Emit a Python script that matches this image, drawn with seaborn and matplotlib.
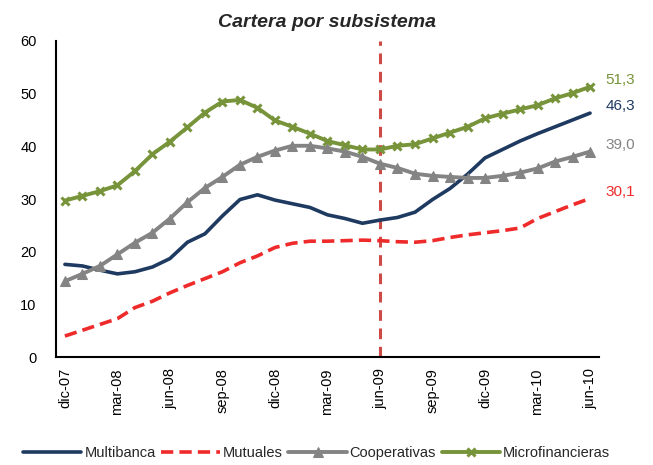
import seaborn as sns
import matplotlib.pyplot as plt
import pandas as pd

# monthly data dic-07 .. jun-10 (31 months)
months = ["dic-07", "ene-08", "feb-08", "mar-08", "abr-08", "may-08", "jun-08", "jul-08",
          "ago-08", "sep-08", "oct-08", "nov-08", "dic-08", "ene-09", "feb-09", "mar-09",
          "abr-09", "may-09", "jun-09", "jul-09", "ago-09", "sep-09", "oct-09", "nov-09",
          "dic-09", "ene-10", "feb-10", "mar-10", "abr-10", "may-10", "jun-10"]

multibanca = [17.6, 17.3, 16.5, 15.8, 16.2, 17.1, 18.7, 21.8, 23.4, 26.8, 29.9, 30.8,
              29.8, 29.1, 28.4, 27.0, 26.3, 25.4, 26.0, 26.5, 27.5, 29.9, 32.0, 34.7,
              37.8, 39.4, 41.0, 42.4, 43.7, 45.0, 46.3]
mutuales = [4.0, 5.1, 6.2, 7.3, 9.4, 10.6, 12.2, 13.6, 14.9, 16.2, 17.9, 19.2,
            20.8, 21.6, 22.0, 22.0, 22.1, 22.2, 22.1, 21.9, 21.8, 22.1, 22.7, 23.2,
            23.6, 24.0, 24.5, 26.3, 27.6, 28.9, 30.1]
cooperativas = [14.4, 15.8, 17.3, 19.5, 21.7, 23.6, 26.3, 29.4, 32.1, 34.2, 36.5, 38.0,
                39.2, 40.1, 40.1, 39.6, 39.0, 38.0, 36.7, 35.9, 34.8, 34.4, 34.2, 34.0,
                34.0, 34.4, 35.0, 35.8, 37.1, 38.0, 39.0]
microfinancieras = [29.7, 30.6, 31.5, 32.6, 35.3, 38.5, 40.9, 43.6, 46.4, 48.5, 48.8, 47.3,
                    44.9, 43.7, 42.4, 41.0, 40.2, 39.4, 39.4, 40.1, 40.4, 41.5, 42.6, 43.7,
                    45.3, 46.2, 47.0, 47.8, 49.1, 50.1, 51.3]

end_labels = ["46,3", "30,1", "39,0", "51,3"]
marker_month = "jun-09"

df = pd.DataFrame({"mes": months, "Multibanca": multibanca, "Mutuales": mutuales,
                   "Cooperativas": cooperativas, "Microfinancieras": microfinancieras})
df["pos"] = range(len(df))

sns.set_style("white")
plt.rcParams['font.family'] = ['Liberation Sans', 'DejaVu Sans']

fig, ax = plt.subplots(figsize=(6.53, 4.65), dpi=100)
fig.subplots_adjust(left=0.086, right=0.917, bottom=0.232, top=0.912)

styles = {
    "Multibanca": dict(color="#1F3A60", linestyle="-", marker=None, linewidth=2.6),
    "Mutuales": dict(color="#EE2A2A", linestyle=(0, (3.4, 1.7)), marker=None, linewidth=2.6),
    "Cooperativas": dict(color="#848484", linestyle="-", marker="^", markersize=7,
                         markeredgecolor="#848484", linewidth=2.8),
    "Microfinancieras": dict(color="#77943A", linestyle="-", marker="x", markersize=6,
                             markeredgewidth=2.2, markeredgecolor="#77943A", linewidth=2.8),
}

for name, st in styles.items():
    sns.lineplot(data=df, x="pos", y=name, ax=ax, label=name, **st)

# vertical reference line at jun-09
ax.axvline(months.index(marker_month), color="#CD4A47", linestyle=(0, (3.5, 2.5)),
           linewidth=2.2, zorder=0)

# end value labels
for name, lab in zip(styles, end_labels):
    ax.annotate(lab, xy=(len(months) - 1, df[name].iloc[-1]), xytext=(11, 5),
                textcoords="offset points", color=styles[name]["color"], fontsize=11,
                va="center", annotation_clip=False)

ax.set_xlim(-0.5, len(months) - 0.5)
ax.set_ylim(0, 60)
ax.set_yticks(range(0, 61, 10))
ax.set_xticks(df["pos"][::3])
ax.set_xticklabels(df["mes"][::3], rotation=90)
ax.tick_params(axis="both", length=0, labelsize=10.5, colors="black")
ax.tick_params(axis="x", pad=8)
ax.tick_params(axis="y", pad=14)
ax.set_xlabel("")
ax.set_ylabel("")
for s in ["top", "right"]:
    ax.spines[s].set_visible(False)
for s in ["left", "bottom"]:
    ax.spines[s].set_color("black")
    ax.spines[s].set_linewidth(1.5)

ax.set_title("Cartera por subsistema", fontsize=14, fontweight="bold", style="italic", pad=10)

handles, labels = ax.get_legend_handles_labels()
ax.get_legend().remove()
fig.legend(handles, labels, loc="center", bbox_to_anchor=(0.485, 0.025), ncol=4, frameon=False,
           fontsize=10.5, handlelength=4.0, handletextpad=0.2, columnspacing=0.4)

fig.savefig("out.png", dpi=100)
